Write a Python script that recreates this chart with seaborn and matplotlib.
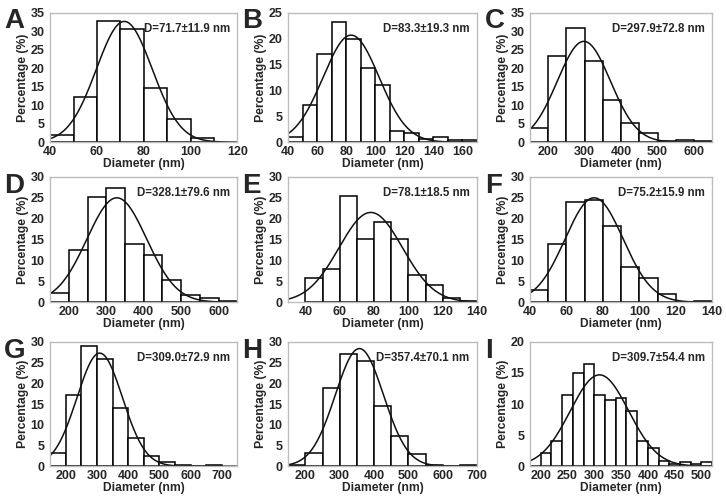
import numpy as np
import pandas as pd
import matplotlib
matplotlib.use("Agg")
import matplotlib.pyplot as plt
import seaborn as sns

# panel data: bin start, bin width, percentage per bin, fit mean / sd / peak
labels = ["A", "B", "C", "D", "E", "F", "G", "H", "I"]
bin_starts = [40, 40, 150, 150, 40, 40, 150, 150, 180]
bin_widths = [10, 10, 50, 50, 10, 10, 50, 50, 20]
pct_A = [2.0, 12.3, 32.8, 30.6, 14.6, 6.4, 1.2]
pct_B = [0.9, 7.2, 17.0, 23.3, 19.9, 14.4, 11.0, 2.1, 1.7, 0.6, 0.9, 0.4, 0.4]
pct_C = [3.8, 23.4, 31.0, 22.0, 11.4, 5.2, 2.6, 0.3, 0.7, 0.3]
pct_D = [2.3, 12.6, 25.1, 27.3, 14.0, 11.2, 5.3, 1.8, 1.0, 0.3]
pct_E = [5.8, 7.9, 25.4, 15.2, 19.1, 15.2, 6.4, 4.0, 1.1, 0.4]
pct_F = [3.0, 14.0, 23.9, 24.4, 18.2, 8.4, 5.8, 2.0, 0.1, 0.4]
pct_G = [3.2, 17.3, 28.9, 25.9, 14.1, 6.9, 2.4, 1.0, 0.3, 0.0, 0.2]
pct_H = [0.3, 3.2, 18.8, 27.2, 25.5, 14.5, 7.2, 3.0, 0.3, 0.0, 0.2]
pct_I = [0.0, 2.2, 4.1, 11.4, 15.0, 16.5, 11.4, 10.7, 10.9, 8.9, 4.0, 3.0,
         0.8, 0.4, 0.7, 0.4, 0.7]
percentages = [pct_A, pct_B, pct_C, pct_D, pct_E, pct_F, pct_G, pct_H, pct_I]
fit_mean = [71.7, 83.3, 297.9, 328.1, 78.1, 75.2, 309.0, 357.4, 309.7]
fit_sd = [11.9, 19.3, 72.8, 79.6, 18.5, 15.9, 72.9, 70.1, 54.4]
fit_peak = [32.7, 20.7, 27.3, 25.0, 21.5, 25.0, 27.3, 28.4, 14.7]

x_limits = [(40, 120), (40, 170), (150, 650), (150, 650), (30, 140),
            (40, 140), (150, 750), (150, 700), (180, 520)]
x_ticks = [range(40, 121, 20), range(40, 161, 20), range(200, 601, 100),
           range(200, 601, 100), range(40, 141, 20), range(40, 141, 20),
           range(200, 701, 100), range(200, 701, 100), range(200, 501, 50)]
y_tops = [35, 25, 35, 30, 30, 30, 30, 30, 20]

sns.set_style("white")
plt.rcParams["font.family"] = ["Liberation Sans", "DejaVu Sans"]
plt.rcParams["font.weight"] = "bold"

fig = plt.figure(figsize=(7.26, 4.97), dpi=100)
col_left = [0.069, 0.397, 0.730]
col_width = [0.258, 0.260, 0.251]
row_bottom = [0.714, 0.392, 0.062]
row_height = [0.260, 0.252, 0.250]

for i, lab in enumerate(labels):
    r, c = divmod(i, 3)
    ax = fig.add_axes([col_left[c], row_bottom[r], col_width[c], row_height[r]])
    vals = percentages[i]
    edges = bin_starts[i] + bin_widths[i] * np.arange(len(vals) + 1)
    df = pd.DataFrame({"d": (edges[:-1] + edges[1:]) / 2, "pct": vals})
    sns.histplot(data=df, x="d", weights="pct", bins=list(edges), ax=ax,
                 color="white", edgecolor="black", linewidth=1.1, alpha=1)
    xs = np.linspace(x_limits[i][0], x_limits[i][1], 300)
    ys = fit_peak[i] * np.exp(-0.5 * ((xs - fit_mean[i]) / fit_sd[i]) ** 2)
    sns.lineplot(x=xs, y=ys, ax=ax, color="#111111", linewidth=1.1)
    ax.set_xlim(*x_limits[i])
    ax.set_ylim(0, y_tops[i])
    ax.set_xticks(list(x_ticks[i]))
    ax.set_yticks(range(0, y_tops[i] + 1, 5))
    ax.tick_params(axis="x", labelsize=9, length=0, pad=2.5)
    ax.tick_params(axis="y", labelsize=9, length=0, pad=4)
    for t in ax.get_xticklabels() + ax.get_yticklabels():
        t.set_fontweight("bold")
    ax.set_xlabel("Diameter (nm)", fontsize=8.7, fontweight="bold", labelpad=0)
    ax.set_ylabel("Percentage (%)", fontsize=8.8, fontweight="bold", labelpad=1)
    for s in ax.spines.values():
        s.set_color("#bdbdbd")
        s.set_linewidth(1.0)
    ax.text(0.96, 0.92, f"D={fit_mean[i]:.1f}\u00b1{fit_sd[i]:.1f} nm",
            transform=ax.transAxes, ha="right", va="top", fontsize=8.3,
            fontweight="bold")
    ax.text(-0.245, 1.035, lab, transform=ax.transAxes, ha="left", va="top",
            fontsize=20, fontweight="bold")

fig.savefig("out.png", dpi=100)
